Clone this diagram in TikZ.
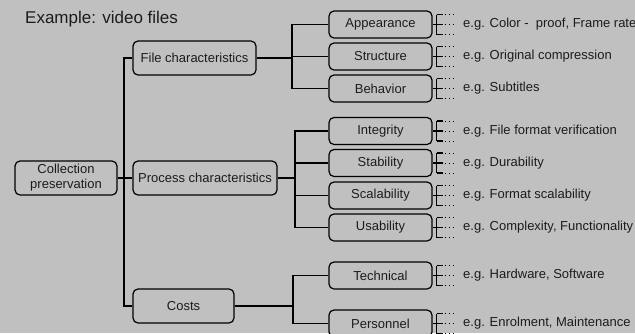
\documentclass[tikz,border=0pt]{standalone}
\usepackage{fontspec}
\setmainfont{Liberation Sans}
\begin{document}
\begin{tikzpicture}[x=1pt,y=-1pt,
  box/.style={draw=black, line width=1.2pt, rounded corners=5pt, fill=bg,
    inner sep=0pt, text=txt, font=\fontsize{13}{15}\selectfont, align=center},
  conn/.style={draw=black, line width=1.8pt},
  brk/.style={draw=black, line width=1.1pt},
  dots/.style={draw=black, line width=0.8pt, dash pattern=on 0.8pt off 3.6pt},
  desc/.style={anchor=west, inner sep=0pt, text=txt, font=\fontsize{13}{15}\selectfont},
  title/.style={anchor=west, inner sep=0pt, text=txt, font=\fontsize{17}{20}\selectfont}
]
\definecolor{bg}{HTML}{C0C0C0}
\definecolor{txt}{HTML}{1C1C1C}
\fill[bg] (0,0) rectangle (635,333);
\useasboundingbox (0,0) rectangle (635,333);
\begin{scope}
\clip (0,0) rectangle (635,333);

\node[title] (ttl) at (25,19) {Example: video files};

% level 0
\node[box, minimum width=102pt, minimum height=34pt] (root) at (66,178) {Collection\\preservation};
% level 1
\node[box, minimum width=123pt, minimum height=34pt] (fc) at (194.5,58) {File characteristics};
\node[box, minimum width=144pt, minimum height=34pt] (pc) at (205,178) {Process characteristics};
\node[box, minimum width=101pt, minimum height=34pt] (co) at (183.5,306) {Costs};
% level 2
\foreach \n/\y/\t in {app/24.5/Appearance, str/56.5/Structure, beh/88.5/Behavior,
                      int/131/Integrity, sta/163/Stability, sca/195.5/Scalability, usa/227.5/Usability,
                      tec/275.5/Technical, per/323.5/Personnel}
  \node[box, minimum width=103pt, minimum height=27pt] (\n) at (380.5,\y) {\t};

% descriptions
\node[desc] (d-app) at (463,24.5) {e.g. Color -\ \ proof, Frame rate};
\node[desc] (d-str) at (463,56.5) {e.g. Original compression};
\node[desc] (d-beh) at (463,88.5) {e.g. Subtitles};
\node[desc] (d-int) at (463,131) {e.g. File format verification};
\node[desc] (d-sta) at (463,163) {e.g. Durability};
\node[desc] (d-sca) at (463,195.5) {e.g. Format scalability};
\node[desc] (d-usa) at (463,227.5) {e.g. Complexity, Functionality};
\node[desc] (d-tec) at (463,275.5) {e.g. Hardware, Software};
\node[desc] (d-per) at (463,323.5) {e.g. Enrolment, Maintenance};

% junction coordinates
\coordinate (j1) at (124,0);
\coordinate (j2) at (292,0);
\coordinate (j3) at (295,0);
\coordinate (j4) at (293,0);

% trunk
\draw[conn] (root.east) -- (pc.west);
\draw[conn] (fc.west) -- (fc.west -| j1) -- (co.west -| j1) -- (co.west);

% file characteristics group
\draw[conn] (fc.east) -- (fc.east -| j2);
\draw[conn] (app.west) -- (app.west -| j2) -- (beh.west -| j2) -- (beh.west);
\draw[conn] (str.west) -- (str.west -| j2);

% process characteristics group
\draw[conn] (pc.east) -- (pc.east -| j3);
\draw[conn] (int.west) -- (int.west -| j3) -- (usa.west -| j3) -- (usa.west);
\draw[conn] (sta.west) -- (sta.west -| j3);
\draw[conn] (sca.west) -- (sca.west -| j3);

% costs group
\draw[conn] (co.east) -- (co.east -| j4);
\draw[conn] (tec.west) -- (tec.west -| j4) -- (per.west -| j4) -- (per.west);

% brackets to descriptions
\foreach \n in {app,str,beh,int,sta,sca,usa,tec,per}{
  \draw[brk] (\n.east) -- ++(4,0) coordinate (\n-b);
  \draw[brk] ([yshift=10pt]\n-b) -- ([yshift=-10pt]\n-b);
  \foreach \d in {-10,0,10}{
    \draw[brk] ([yshift=\d pt]\n-b) -- ++(6,0);
    \draw[dots] ([yshift=\d pt, xshift=8pt]\n-b) -- ++(11,0);
  }
}
\end{scope}
\end{tikzpicture}
\end{document}
